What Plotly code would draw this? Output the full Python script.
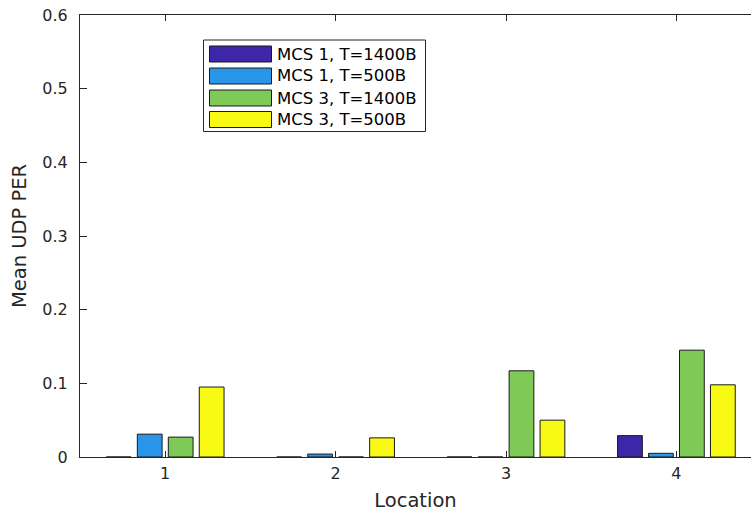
import plotly.graph_objects as go

locations = [1, 2, 3, 4]
series_names = ["MCS 1, T=1400B", "MCS 1, T=500B", "MCS 3, T=1400B", "MCS 3, T=500B"]
mcs1_1400 = [0.0, 0.0, 0.0, 0.029]
mcs1_500 = [0.031, 0.004, 0.0, 0.005]
mcs3_1400 = [0.027, 0.0, 0.117, 0.145]
mcs3_500 = [0.095, 0.026, 0.050, 0.098]
series_values = [mcs1_1400, mcs1_500, mcs3_1400, mcs3_500]
colors = ["#3E26A8", "#2A96EA", "#7FC957", "#F9FA14"]
y_ticks = [0, 0.1, 0.2, 0.3, 0.4, 0.5, 0.6]
y_ticklabels = ["0", "0.1", "0.2", "0.3", "0.4", "0.5", "0.6"]

# body margin is removed by the post script, so figure pixels == screen pixels
W, H = 751, 516
SL, ST, SB = 80, 15, 457          # plot edges on screen
L, T, B = SL, ST, SB
PW, PH = W - L, B - T

FONT = "DejaVu Sans, Liberation Sans, Arial, sans-serif"
AX = "#262626"

fig = go.Figure()
for name, vals, col in zip(series_names, series_values, colors):
    fig.add_trace(go.Bar(
        x=locations, y=vals, name=name, showlegend=False,
        marker=dict(color=col, line=dict(color="#1a1a1a", width=1)),
    ))


def px(xs):
    return (xs - SL) / PW


def py(ys):
    return (SB - ys) / PH


shapes = []
annotations = []
# legend box
shapes.append(dict(type="rect", xref="paper", yref="paper",
                   x0=px(203.5), x1=px(425.5), y0=py(131.5), y1=py(40),
                   line=dict(color=AX, width=1), fillcolor="white", layer="above"))
row_centers = [54, 76, 98, 119.5]
for name, col, yc in zip(series_names, colors, row_centers):
    shapes.append(dict(type="rect", xref="paper", yref="paper",
                       x0=px(209.5), x1=px(271.5), y0=py(yc + 8), y1=py(yc - 8),
                       line=dict(color="#1a1a1a", width=1), fillcolor=col, layer="above"))
    annotations.append(dict(xref="paper", yref="paper", x=px(275), y=py(yc),
                            text=name, showarrow=False, xanchor="left", yanchor="middle",
                            font=dict(family=FONT, size=16.5, color="#000000")))

fig.update_layout(
    width=W, height=H,
    margin=dict(l=L, r=0, t=T, b=H - B, pad=0),
    paper_bgcolor="white", plot_bgcolor="white",
    barmode="group", bargap=0.273, bargroupgap=0.2,
    font=dict(family=FONT, size=16, color=AX),
    shapes=shapes, annotations=annotations,
    xaxis=dict(
        range=[0.5, 0.5 + PW / 170.4], tickvals=locations, ticktext=[str(v) for v in locations],
        showline=True, linecolor=AX, linewidth=1, mirror="ticks",
        ticks="inside", ticklen=6, tickcolor=AX, tickwidth=1,
        showgrid=False, zeroline=False, automargin=False,
        tickfont=dict(family=FONT, size=16, color=AX), ticklabelstandoff=2,
        title=dict(text="Location", font=dict(family=FONT, size=19.5, color=AX), standoff=11),
    ),
    yaxis=dict(
        range=[0, 0.6], tickvals=y_ticks, ticktext=y_ticklabels,
        showline=True, linecolor=AX, linewidth=1,
        ticks="inside", ticklen=7, tickcolor=AX, tickwidth=1,
        showgrid=False, zeroline=False, automargin=False,
        ticklabeloverflow="allow",
        tickfont=dict(family=FONT, size=16, color=AX), ticklabelstandoff=8,
        title=dict(text="Mean UDP PER", font=dict(family=FONT, size=19.5, color=AX), standoff=10),
    ),
)

fig.write_html("out.html", config={"displayModeBar": False},
               post_script="document.body.style.margin='0';")
